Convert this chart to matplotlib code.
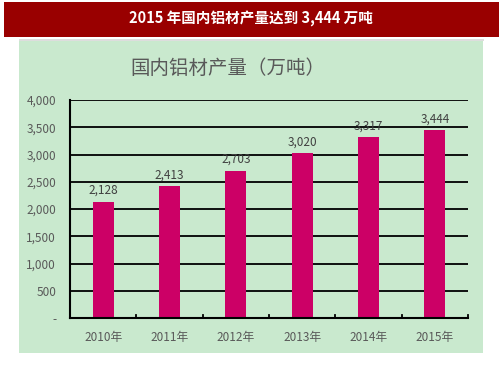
import matplotlib
matplotlib.use("Agg")
import matplotlib.pyplot as plt
from matplotlib.patches import Rectangle

plt.rcParams['font.family'] = ['Noto Sans CJK SC', 'DejaVu Sans']

years = ['2010年', '2011年', '2012年', '2013年', '2014年', '2015年']
values = [2128, 2413, 2703, 3020, 3317, 3444]
yticks = [0, 500, 1000, 1500, 2000, 2500, 3000, 3500, 4000]
ytick_labels = ['-', '500', '1,000', '1,500', '2,000', '2,500', '3,000', '3,500', '4,000']
banner_title = '2015 年国内铝材产量达到 3,444 万吨'
chart_title = '国内铝材产量（万吨）'

W, H = 503, 378
fig = plt.figure(figsize=(W / 100, H / 100), dpi=100)
fig.patch.set_facecolor('white')

# banner
fig.patches.append(Rectangle((4 / W, 1 - 37 / H), 495 / W, 35 / H, transform=fig.transFigure,
                             facecolor='#990000', edgecolor='none', zorder=-2))
fig.text(251 / W, 1 - 19 / H, banner_title, color='white', fontsize=10.5, fontweight='bold',
         ha='center', va='center')
# thin line under banner
fig.patches.append(Rectangle((19 / W, 1 - 41 / H), 465 / W, 2 / H, transform=fig.transFigure,
                             facecolor='#dddddd', edgecolor='none', zorder=-2))
# green panel
fig.patches.append(Rectangle((19 / W, 1 - 353 / H), 464 / W, 312 / H, transform=fig.transFigure,
                             facecolor='#C9E9CE', edgecolor='none', zorder=-2))
fig.text(228 / W, 1 - 68 / H, chart_title, color='#595959', fontsize=14, ha='center', va='center')

ax = fig.add_axes([70 / W, 1 - 318 / H, 398 / W, 218 / H])
ax.set_zorder(2)
ax.set_facecolor('none')
x = list(range(len(years)))
ax.bar(x, values, width=0.32, color='#CC0066', zorder=3)
for xi, v in zip(x, values):
    ax.text(xi, v + 90, f'{v:,}', ha='center', va='bottom', fontsize=8.5, color='#404040', zorder=4)

ax.set_xlim(-0.5, len(years) - 0.5)
ax.set_ylim(0, 4000)
ax.set_yticks(yticks)
ax.set_yticklabels(ytick_labels)
ax.set_xticks(x)
ax.set_xticklabels(years)
ax.tick_params(axis='y', length=0, labelsize=8.5, labelcolor='#595959', pad=10)
ax.tick_params(axis='x', length=0, labelsize=8.5, labelcolor='#595959', pad=9)
for yt in yticks[1:]:
    ax.axhline(yt, color='black', lw=1.3, zorder=1)
# category boundary ticks (inward)
for b in [i + 0.5 for i in range(len(years))]:
    ax.plot([b, b], [0, 50], color='black', lw=1.3, zorder=2, clip_on=False)
for s in ['top', 'right']:
    ax.spines[s].set_visible(False)
ax.spines['left'].set_linewidth(1.5)
ax.spines['bottom'].set_linewidth(1.5)
ax.spines['left'].set_zorder(5)
ax.spines['bottom'].set_zorder(5)

fig.savefig('out.png', dpi=100, facecolor='white')
